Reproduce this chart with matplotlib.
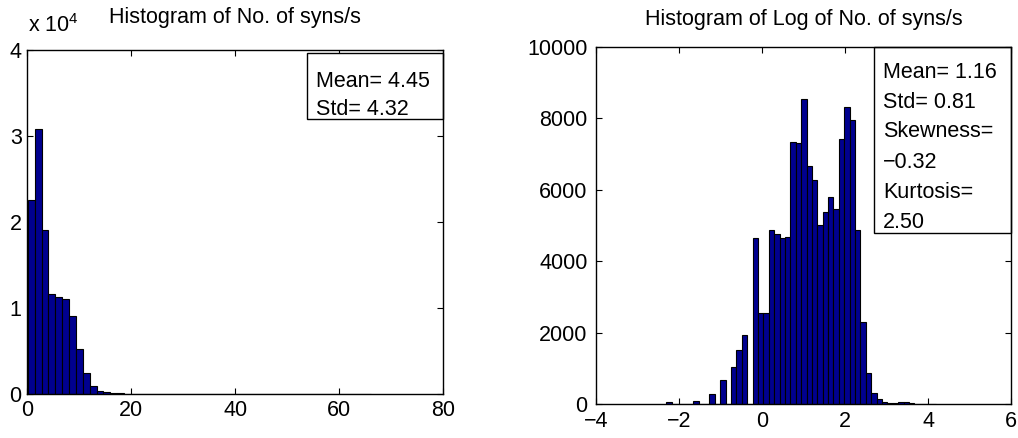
import numpy as np
import matplotlib
matplotlib.use("Agg")
import matplotlib.pyplot as plt
from matplotlib import font_manager
from matplotlib.patches import Rectangle
from matplotlib.ticker import FuncFormatter

# narrow Helvetica-like face if present, otherwise the regular one a bit smaller
installed = {f.name for f in font_manager.fontManager.ttflist}
if "Liberation Sans Narrow" in installed:
    FONT, FS = "Liberation Sans Narrow", 18.5
else:
    FONT, FS = "Liberation Sans", 15.5

plt.rcParams.update({
    "font.family": [FONT, "DejaVu Sans"],
    "font.size": FS,
    "mathtext.default": "regular",
    "axes.linewidth": 1.0,
})

BAR_COLOR = "#00008f"

# histogram of syns/s (50 bins)
rate_min, rate_max = 0.1, 66.2
rate_counts = [22570, 30820, 19090, 11660, 11230, 11070, 9020, 5270, 2450, 960,
               380, 200, 110, 60, 35, 20, 12, 8, 5, 4,
               3, 2, 2, 1, 1, 1, 1, 1, 0, 0,
               1, 0, 0, 0, 0, 0, 0, 0, 0, 0,
               0, 0, 0, 0, 0, 0, 0, 0, 0, 1]
rate_stats = ["Mean= 4.45", "Std= 4.32"]

# histogram of log(syns/s) (50 bins)
log_min, log_max = np.log(rate_min), np.log(rate_max)
log_counts = [55, 5, 15, 20, 10, 80, 10, 15, 300, 5,
              680, 0, 1030, 1520, 1950, 0, 4650, 2550, 2550, 4874,
              4754, 4650, 4678, 7335, 7299, 8529, 6664, 6264, 5014, 5377,
              5789, 5461, 7427, 8314, 7950, 4865, 2290, 870, 320, 150,
              70, 40, 40, 60, 65, 25, 15, 10, 5, 5]
log_stats = ["Mean= 1.16", "Std= 0.81", "Skewness=", "\u22120.32", "Kurtosis=", "2.50"]

fig = plt.figure(figsize=(10.18, 4.38), dpi=100)
ax1 = fig.add_axes([0.0268, 0.1005, 0.4084, 0.7854])
ax2 = fig.add_axes([0.5852, 0.0769, 0.4080, 0.8164])


def draw_hist(ax, lo, hi, counts):
    edges = np.linspace(lo, hi, len(counts) + 1)
    ax.bar(edges[:-1], counts, width=np.diff(edges), align="edge",
           color=BAR_COLOR, edgecolor="black", linewidth=0.8, zorder=2)


def style(ax, xpad=4, ypad=4):
    ax.tick_params(direction="in", top=True, right=True, length=4, width=0.8,
                   labelsize=FS)
    ax.tick_params(axis="x", pad=xpad)
    ax.tick_params(axis="y", pad=ypad)
    for s in ax.spines.values():
        s.set_zorder(5)


def stats_box(ax, x0, y0, y1, lines, baselines, tx):
    ax.add_patch(Rectangle((x0, y0), 1 - x0, y1 - y0,
                           transform=ax.transAxes, facecolor="white",
                           edgecolor="black", linewidth=1.0, zorder=3, clip_on=False))
    for line, yb in zip(lines, baselines):
        ax.text(tx, yb, line, transform=ax.transAxes, va="baseline", ha="left",
                fontsize=FS, zorder=4)


# left: raw rate
draw_hist(ax1, rate_min, rate_max, rate_counts)
ax1.set_xlim(0, 80)
ax1.set_ylim(0, 40000)
ax1.set_xticks([0, 20, 40, 60, 80])
ax1.set_yticks([0, 10000, 20000, 30000, 40000])
ax1.yaxis.set_major_formatter(FuncFormatter(lambda v, p: f"{v / 1e4:g}"))
style(ax1)
ax1.set_title("Histogram of No. of syns/s", fontsize=FS, pad=19.5)
ax1.text(0.002, 1.053, "x 10$^4$", transform=ax1.transAxes, va="baseline",
         ha="left", fontsize=FS)
stats_box(ax1, 0.672, 0.7994, 0.992, rate_stats, [0.893, 0.811], 0.6945)

# right: log rate
draw_hist(ax2, log_min, log_max, log_counts)
ax2.set_xlim(-4, 6)
ax2.set_ylim(0, 10000)
ax2.set_xticks([-4, -2, 0, 2, 4, 6])
ax2.set_yticks([0, 2000, 4000, 6000, 8000, 10000])
style(ax2, xpad=5, ypad=6)
ax2.set_title("Histogram of Log of No. of syns/s", fontsize=FS, pad=15.5)
stats_box(ax2, 0.671, 0.478, 1.0, log_stats,
          [0.9125, 0.8286, 0.7475, 0.6608, 0.5769, 0.4930], 0.6925)

fig.savefig("out.png", dpi=100)
